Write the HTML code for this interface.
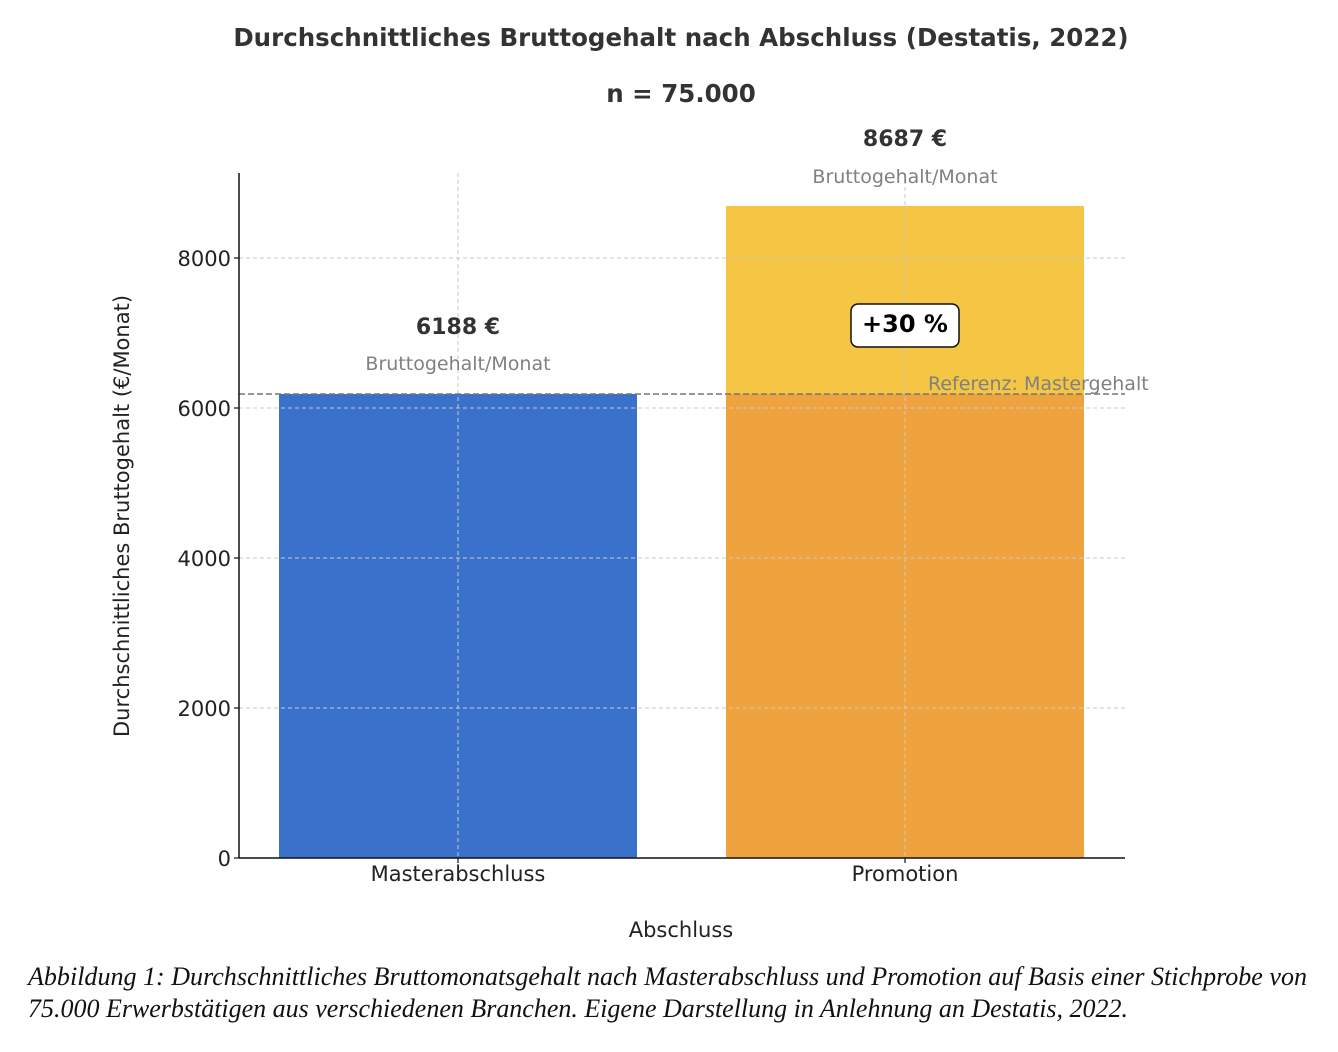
<!DOCTYPE html>
<html><head><meta charset="utf-8"><style>html,body{margin:0;padding:0;background:#fff}</style></head>
<body>
<svg width="1338" height="1047" viewBox="0 0 1338 1047" xmlns="http://www.w3.org/2000/svg" font-family="DejaVu Sans, Liberation Sans, sans-serif">
<rect width="1338" height="1047" fill="#fff"/>
<text x="681" y="46" text-anchor="middle" font-size="24.5" font-weight="bold" fill="#333">Durchschnittliches Bruttogehalt nach Abschluss (Destatis, 2022)</text>
<text x="681" y="102" text-anchor="middle" font-size="24.5" font-weight="bold" fill="#333">n = 75.000</text>
<rect x="279" y="394" width="358" height="464" fill="#3a72cb"/>
<rect x="726" y="206" width="358" height="188" fill="#f4c644"/>
<rect x="726" y="394" width="358" height="464" fill="#efa33e"/>
<g stroke="#c8c8c8" stroke-width="1" stroke-dasharray="4,3">
<line x1="239" y1="258" x2="1125" y2="258"/>
<line x1="239" y1="408" x2="1125" y2="408"/>
<line x1="239" y1="558" x2="1125" y2="558"/>
<line x1="239" y1="708" x2="1125" y2="708"/>
<line x1="458" y1="173" x2="458" y2="858"/>
<line x1="905" y1="173" x2="905" y2="858"/>
</g>
<line x1="239" y1="394" x2="1125" y2="394" stroke="#777" stroke-width="1.5" stroke-dasharray="6,3"/>
<line x1="239" y1="173" x2="239" y2="858" stroke="#111" stroke-width="1.5"/>
<line x1="239" y1="858" x2="1125" y2="858" stroke="#111" stroke-width="1.5"/>
<g stroke="#111" stroke-width="1.2">
<line x1="234" y1="258" x2="239" y2="258"/><line x1="234" y1="408" x2="239" y2="408"/>
<line x1="234" y1="558" x2="239" y2="558"/><line x1="234" y1="708" x2="239" y2="708"/>
<line x1="234" y1="858" x2="239" y2="858"/>
<line x1="458" y1="858" x2="458" y2="863"/><line x1="905" y1="858" x2="905" y2="863"/>
</g>
<g font-size="21" fill="#222" text-anchor="end">
<text x="231" y="266">8000</text><text x="231" y="416">6000</text>
<text x="231" y="566">4000</text><text x="231" y="716">2000</text><text x="231" y="866">0</text>
</g>
<g font-size="21" fill="#222" text-anchor="middle">
<text x="458" y="881">Masterabschluss</text><text x="905" y="881">Promotion</text>
<text x="681" y="937">Abschluss</text>
<text transform="translate(129,516) rotate(-90)">Durchschnittliches Bruttogehalt (€/Monat)</text>
</g>
<text x="458" y="334" text-anchor="middle" font-size="22" font-weight="bold" fill="#333">6188 €</text>
<text x="458" y="370" text-anchor="middle" font-size="19" fill="#808080">Bruttogehalt/Monat</text>
<text x="905" y="146" text-anchor="middle" font-size="22" font-weight="bold" fill="#333">8687 €</text>
<text x="905" y="183" text-anchor="middle" font-size="19" fill="#808080">Bruttogehalt/Monat</text>
<text x="928" y="390" font-size="19" fill="#808080">Referenz: Mastergehalt</text>
<rect x="851" y="304" width="108" height="43" rx="7" fill="#fff" stroke="#111" stroke-width="1.5"/>
<text x="905" y="332" text-anchor="middle" font-size="24" font-weight="bold" fill="#000">+30 %</text>
<g font-family="Liberation Serif, serif" font-style="italic" font-size="26" fill="#111">
<text x="28" y="985" textLength="1279" lengthAdjust="spacingAndGlyphs">Abbildung 1: Durchschnittliches Bruttomonatsgehalt nach Masterabschluss und Promotion auf Basis einer Stichprobe von</text>
<text x="28" y="1017" textLength="1100" lengthAdjust="spacingAndGlyphs">75.000 Erwerbstätigen aus verschiedenen Branchen. Eigene Darstellung in Anlehnung an Destatis, 2022.</text>
</g>
</svg>
</body></html>
